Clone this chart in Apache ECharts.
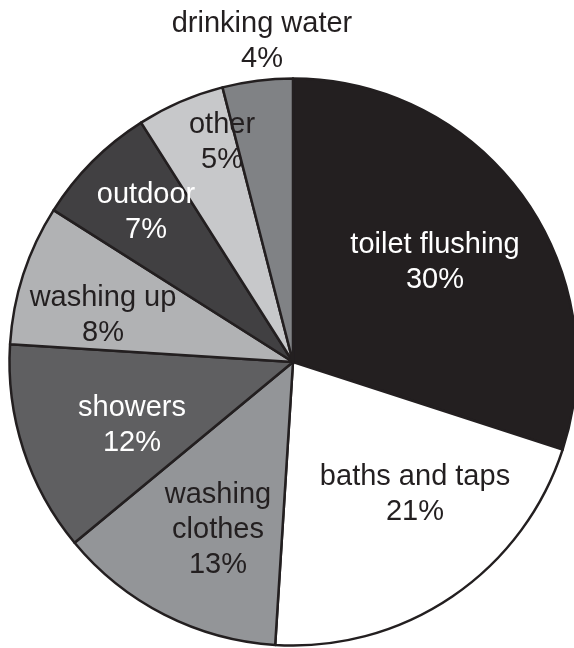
<!DOCTYPE html>
<html>
<head>
<meta charset="utf-8">
<script src="https://cdn.jsdelivr.net/npm/echarts@6/dist/echarts.min.js"></script>
<style>
html,body{margin:0;padding:0;background:#fff;}
#chart{width:574px;height:648px;}
</style>
</head>
<body>
<div id="chart"></div>
<script>
const categories = ['toilet flushing','baths and taps','washing clothes','showers','washing up','outdoor','other','drinking water'];
const labelTexts = ['toilet flushing','baths and taps','washing\nclothes','showers','washing up','outdoor','other','drinking water'];
const values = [30, 21, 13, 12, 8, 7, 5, 4];

const sliceColors = ['#231f20','#ffffff','#939598','#5f5f61','#b1b2b4','#414042','#c7c8ca','#808285'];
const textColors = ['#ffffff','#231f20','#231f20','#ffffff','#231f20','#ffffff','#231f20','#231f20'];
const labelPos = [[435,262],[415,494],[218,530],[132,425],[103,315],[146,212],[222,142],[262,41]];

const chart = echarts.init(document.getElementById('chart'));
chart.setOption({
  animation: false,
  backgroundColor: '#ffffff',
  series: [{
    type: 'pie',
    center: [293, 362],
    radius: [0, 283.5],
    startAngle: 90,
    clockwise: true,
    avoidLabelOverlap: false,
    labelLine: { show: false },
    itemStyle: { borderColor: '#231f20', borderWidth: 2.5 },
    label: {
      show: true,
      position: 'inside',
      fontFamily: '"Liberation Sans", Arial, Helvetica, sans-serif',
      fontSize: 29,
      lineHeight: 35,
      align: 'center',
      verticalAlign: 'middle',
      formatter: p => labelTexts[p.dataIndex] + '\n' + values[p.dataIndex] + '%'
    },
    labelLayout: p => ({ x: labelPos[p.dataIndex][0], y: labelPos[p.dataIndex][1], align: 'center', verticalAlign: 'middle' }),
    data: categories.map((c, i) => ({
      name: c,
      value: values[i],
      itemStyle: { color: sliceColors[i] },
      label: { color: textColors[i] }
    }))
  }]
});
</script>
</body>
</html>
